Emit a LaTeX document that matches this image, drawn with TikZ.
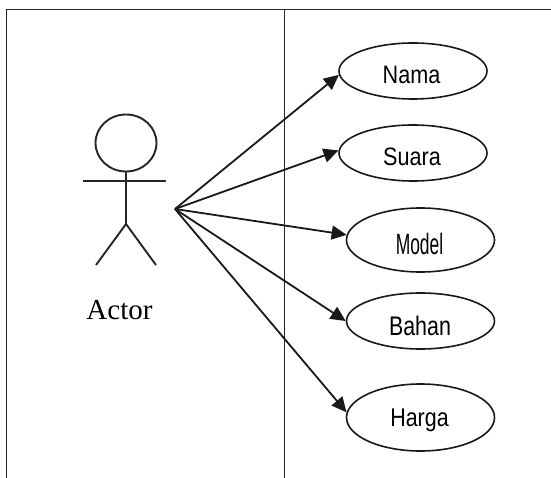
\documentclass[tikz,border=0pt]{standalone}
\usepackage{fontspec}
\setmainfont{Liberation Serif}
\newfontfamily\lblfont{Liberation Sans}
\usetikzlibrary{arrows.meta,shapes.geometric}
\newcommand{\uclabel}[5]{\hspace*{#1pt}\raisebox{#2pt}[0pt][0pt]{\scalebox{#3}[#4]{\lblfont\fontsize{21}{25}\selectfont #5}}}
\tikzset{
  frameline/.style={line width=1.4pt,draw=black!85},
  stick/.style={line width=1.9pt,draw=black!85},
  usecase/.style={ellipse,draw=black!90,line width=1.6pt,fill=white,inner sep=0pt,text=black,minimum width=148pt},
  assoc/.style={line width=1.8pt,draw=black!90,-{Triangle[length=15pt,width=14pt]},shorten >=0pt},
}
\begin{document}
\begin{tikzpicture}[x=1pt,y=-1pt]
\useasboundingbox (0,0) rectangle (551,478);
\fill[white] (0,0) rectangle (551,478);
% frame
\coordinate (frameTL) at (6.5,9.3);
\coordinate (frameTR) at (551,9.3);
\coordinate (frameBL) at (6.5,478);
\coordinate (divT) at (284.5,9.3);
\coordinate (divB) at (284.5,478);
\draw[frameline] (frameBL) -- (frameTL) -- (frameTR);
\draw[frameline] (divT) -- (divB);
% actor
\draw[stick] (126,143) ellipse [x radius=30.5pt,y radius=28.5pt];
\coordinate (neck) at (126,171.5);
\coordinate (hip) at (126,224);
\coordinate (armL) at (83,181);
\coordinate (armR) at (166,181);
\coordinate (legL) at (96,265);
\coordinate (legR) at (156,265);
\draw[stick] (neck) -- (hip);
\draw[stick] (armL) -- (armR);
\draw[stick] (legL) -- (hip) -- (legR);
\node[inner sep=0pt,font=\fontsize{29}{33}\selectfont] (actor) at (119.5,310.5) {Actor};
\coordinate (src) at (175,209);
% use cases
\node[usecase,minimum height=56pt] (nama) at (413,71) {\uclabel{-3}{-12.3}{1.03}{1.2}{Nama}};
\node[usecase,minimum height=56pt] (suara) at (413,153) {\uclabel{-2}{-12.5}{1.03}{1.2}{Suara}};
\node[usecase,minimum height=64pt] (model) at (420.5,240) {\uclabel{-2}{-14.5}{.83}{1.4}{Model}};
\node[usecase,minimum height=56pt] (bahan) at (420.5,321) {\uclabel{-1}{-14}{1.02}{1.28}{Bahan}};
\node[usecase,minimum height=67pt] (harga) at (420.5,417.5) {\uclabel{-2}{-8.5}{1.02}{1.22}{Harga}};
% connectors
\draw[assoc] (src) -- (nama.183);
\draw[assoc] (src) -- (suara.178);
\draw[assoc] (src) -- (model.176);
\draw[assoc] (src) -- (bahan.180);
\draw[assoc] (src) -- (harga.176);
\end{tikzpicture}
\end{document}
